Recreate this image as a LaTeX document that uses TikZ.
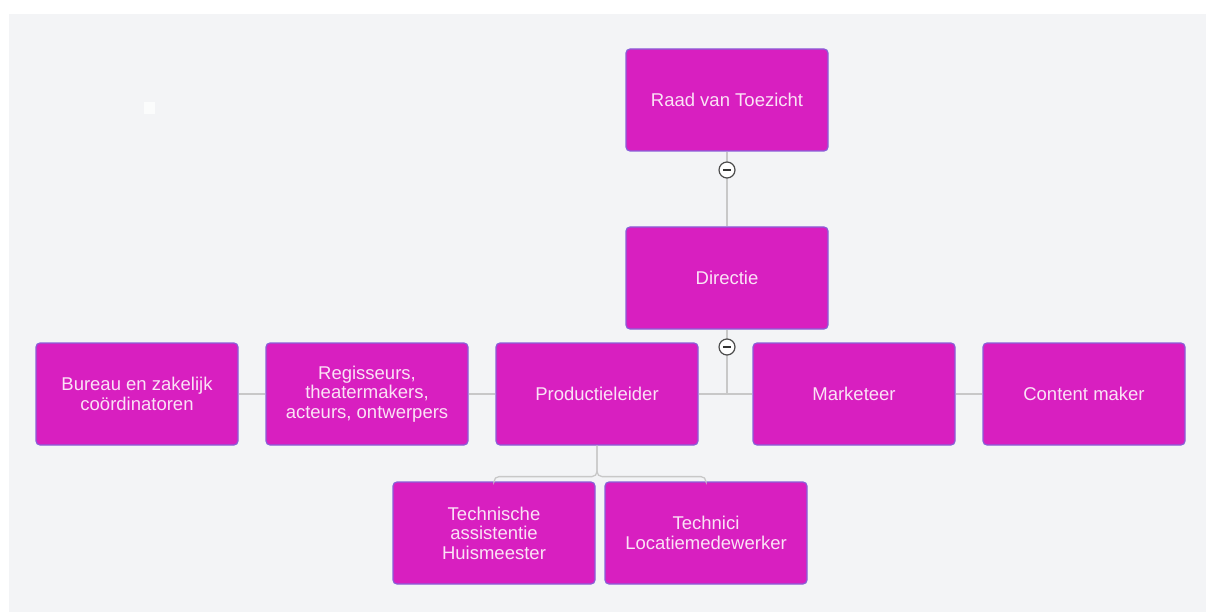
\documentclass[tikz,border=0pt]{standalone}
\usepackage{fontspec}
\setmainfont{Liberation Sans}
\definecolor{panel}{HTML}{F3F4F6}
\definecolor{boxfill}{HTML}{D81FC0}
\definecolor{boxline}{HTML}{8A5ED8}
\definecolor{conn}{HTML}{C8C8C8}
\definecolor{boxtext}{HTML}{FBE2F6}
\begin{document}
\begin{tikzpicture}[x=1pt,y=-1pt,
 orgbox/.style={draw=boxline, line width=1.2pt, fill=boxfill, rounded corners=4pt,
   minimum width=202pt, minimum height=102pt, inner sep=0pt, text=boxtext,
   align=center, font=\fontsize{18.5}{19.5}\selectfont},
 link/.style={draw=conn, line width=1.3pt},
 toggle/.style={circle, draw=black!70, fill=white, line width=1.2pt, minimum size=16pt, inner sep=0pt,
   path picture={\draw[black!80, line width=1.3pt] ([xshift=-4pt]path picture bounding box.center) -- ([xshift=4pt]path picture bounding box.center);}}]
\useasboundingbox (0,0) rectangle (1206,612);
\fill[white] (0,0) rectangle (1206,612);
\fill[panel] (9,14) rectangle (1206,612);
\fill[white!70!panel] (144,102) rectangle (155,114);

\node[orgbox] (raad) at (727,100) {Raad van Toezicht};
\node[orgbox] (dir) at (727,278) {Directie};
\node[orgbox] (bureau) at (137,394) {Bureau en zakelijk\\coördinatoren};
\node[orgbox] (regis) at (367,394) {Regisseurs,\\theatermakers,\\acteurs, ontwerpers};
\node[orgbox] (prod) at (597,394) {Productieleider};
\node[orgbox] (mark) at (854,394) {Marketeer};
\node[orgbox] (content) at (1084,394) {Content maker};
\node[orgbox] (tech1) at (494,533) {Technische\\assistentie\\Huismeester};
\node[orgbox] (tech2) at (706,533) {Technici\\Locatiemedewerker};
\coordinate (bus) at (727,395);

\draw[link] (raad) -- (dir);
\draw[link] (dir) -- (bus);
\draw[link] (bureau.east) -- (regis.west);
\draw[link] (regis.east) -- (prod.west);
\draw[link] (prod.east) -- (mark.west);
\draw[link] (mark.east) -- (content.west);
\draw[link, rounded corners=5pt] (prod.south) -- ++(0,31) -| (tech1.north);
\draw[link, rounded corners=5pt] (prod.south) -- ++(0,31) -| (tech2.north);

\node[toggle] (t1) at (727,170) {};
\node[toggle] (t2) at (727,347) {};
\end{tikzpicture}
\end{document}
